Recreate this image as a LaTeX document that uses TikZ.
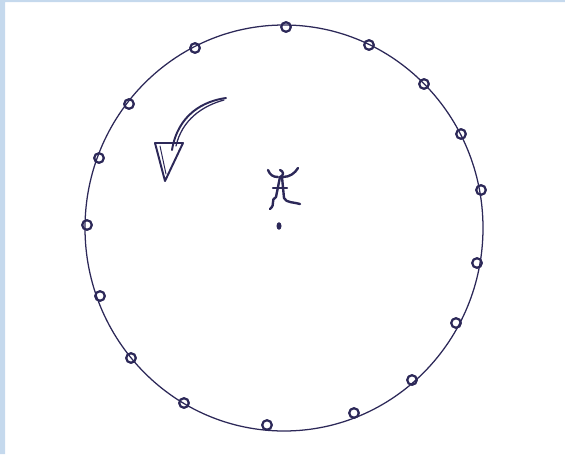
\documentclass[tikz,border=0pt]{standalone}
\definecolor{ink}{RGB}{44,40,88}
\definecolor{frame}{RGB}{197,217,237}
\begin{document}
\begin{tikzpicture}[x=.025cm,y=-.025cm,line width=.9pt,draw=ink,line cap=round,line join=round,
  pebble/.style={draw=ink,circle,line width=1.6pt,inner sep=0pt,minimum size=.24cm}]
  \path[use as bounding box] (0,0) rectangle (565,454);
  \fill[frame] (0,0) rectangle (5,454) (0,0) rectangle (565,2);
  % the ring
  \draw (284,228) ellipse (199 and 203);
  \foreach \x/\y [count=\i] in {286/27,369/45,424/84,461/134,481/190,477/263,456/323,
      412/380,354/413,267/425,184/403,131/358,100/296,87/225,99/158,129/104,195/48}
    \node[pebble] (p\i) at (\x,\y) {};
  % turning arrow
  \draw[line width=1.4pt] (226,98) .. controls (204,101) and (178,114) .. (172,150);
  \draw[line width=.9pt] (224,100) .. controls (202,106) and (182,120) .. (176,146);
  \draw[line width=1.4pt] (155,143) -- (183,143) -- (165,181) -- cycle;
  \draw[line width=.7pt] (160,146) -- (166,174);
  % figure in the middle
  \draw[line width=1.7pt] (268,170) .. controls (270,175) and (273,177) .. (278,177);
  \draw[line width=1.7pt] (283,177) .. controls (290,177) and (295,173) .. (298,168);
  \draw[line width=1.7pt] (280,170) .. controls (284,171) and (284,176) .. (280,177)
    -- (276,197) .. controls (270,200) and (276,204) .. (270,209);
  \draw[line width=1.7pt] (282,177) -- (284,198)
    .. controls (286,203) and (294,202) .. (300,204);
  \draw[line width=1.7pt] (273,188) -- (287,188);
  \fill[ink] (279,226) ellipse (2.5 and 3.8);
\end{tikzpicture}
\end{document}
